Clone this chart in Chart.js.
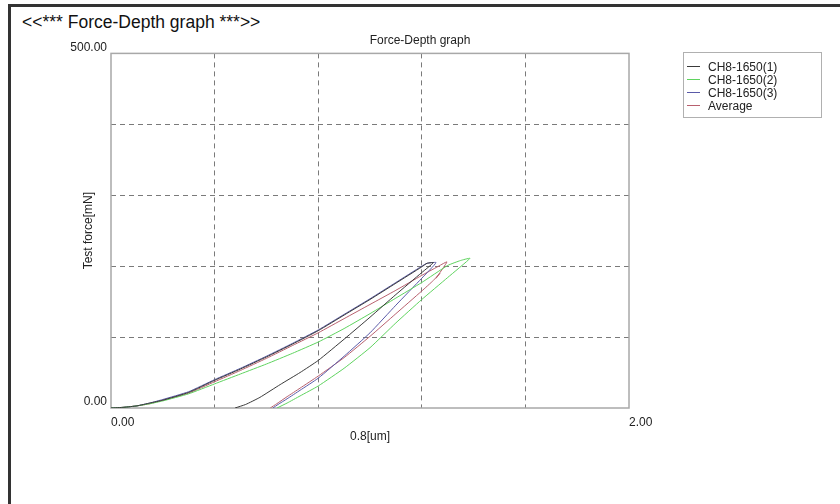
<!DOCTYPE html>
<html>
<head>
<meta charset="utf-8">
<script src="https://cdn.jsdelivr.net/npm/chart.js@4/dist/chart.umd.min.js"></script>
<style>
  html, body { margin: 0; padding: 0; background: #fff; }
  body { width: 840px; height: 504px; position: relative; overflow: hidden;
         font-family: "Liberation Sans", Arial, sans-serif; }
  #frame { position: absolute; left: 8px; top: 4px; width: 840px; height: 497px;
           border-top: 3px solid #333; border-left: 3px solid #333;
           border-bottom: 1px solid #ddd; }
  #heading { position: absolute; left: 22px; top: 12px; font-size: 17.5px; color: #111; white-space: pre; }
  #c { position: absolute; left: 0; top: 0; }
  #legend { position: absolute; left: 683px; top: 52px; width: 139px; height: 66px;
            border: 1px solid #b0b0b0; box-sizing: border-box; padding-top: 7px; }
  .row { height: 13px; display: flex; align-items: center; font-size: 12px; color: #222; }
  .row i { display: inline-block; width: 13px; height: 1px; margin: 0 8px 0 3px; }
</style>
</head>
<body>
<div id="frame"></div>
<div id="heading">&lt;&lt;*** Force-Depth graph ***&gt;&gt;</div>
<canvas id="c" width="840" height="504"></canvas>
<div id="legend"></div>
<script>
// --- data (depth in um, force in mN) ---
const seriesNames = ["CH8-1650(1)", "CH8-1650(2)", "CH8-1650(3)", "Average"];
const seriesColors = ["#3a3a3a", "#5fd35f", "#5a5aa8", "#b8606e"];

const ch1Depth = [0, 0.05, 0.1, 0.15, 0.2, 0.3, 0.4, 0.5, 0.6, 0.7, 0.8, 0.9, 1.0, 1.1, 1.2, 1.22, 1.245,
  1.2, 1.1, 1.0, 0.9, 0.8, 0.73, 0.653, 0.575, 0.52, 0.479];
const ch1Force = [0, 1, 3, 7, 11, 22, 39, 55, 72, 90, 109, 131, 153, 176, 199, 204, 205,
  191, 160, 128, 97, 67, 50, 33, 15, 5, 0];

const ch2Depth = [0, 0.05, 0.1, 0.15, 0.2, 0.3, 0.4, 0.5, 0.6, 0.7, 0.8, 0.9, 1.0, 1.1, 1.2, 1.3, 1.35, 1.386,
  1.3, 1.2, 1.1, 1.0, 0.9, 0.8, 0.73, 0.68, 0.641];
const ch2Force = [0, 1, 3, 6, 10, 20, 34, 48, 62, 77, 93, 112, 133, 155, 177, 201, 208, 211,
  184, 153, 120, 85, 56, 31, 17, 7, 0];

const ch3Depth = [0, 0.05, 0.1, 0.15, 0.2, 0.3, 0.4, 0.5, 0.6, 0.7, 0.8, 0.9, 1.0, 1.1, 1.2, 1.22, 1.255,
  1.2, 1.1, 1.0, 0.9, 0.8, 0.73, 0.68, 0.645, 0.625];
const ch3Force = [0, 1, 3, 7, 12, 23, 40, 56, 73, 91, 110, 132, 154, 177, 200, 204, 205,
  183, 145, 106, 73, 42, 25, 13, 5, 0];

const avgDepth = [0, 0.05, 0.1, 0.15, 0.2, 0.3, 0.4, 0.5, 0.6, 0.7, 0.8, 0.9, 1.0, 1.1, 1.2, 1.26, 1.297,
  1.255, 1.27, 1.245, 1.2, 1.1, 1.0, 0.9, 0.8, 0.73, 0.68, 0.64, 0.615];
const avgForce = [0, 1, 3, 6, 11, 21, 37, 53, 70, 88, 106, 126, 146, 166, 187, 199, 206,
  183, 190, 180, 165, 133, 101, 71, 45, 28, 16, 6, 0];

const xGrid = [0, 0.4, 0.8, 1.2, 1.6, 2.0];
const yGrid = [0, 100, 200, 300, 400, 500];
const xTickLabels = ["0.00", "", "", "", "", "2.00"];
const yTickLabels = ["0.00", "", "", "", "", "500.00"];

const depths = [ch1Depth, ch2Depth, ch3Depth, avgDepth];
const forces = [ch1Force, ch2Force, ch3Force, avgForce];

function toPoints(xs, ys) {
  return xs.map((x, i) => ({ x, y: ys[i] }));
}

const FONT = { family: '"Liberation Sans", Arial, sans-serif', size: 12, weight: "normal" };

// frame around the plot area
const plotBorder = {
  id: "plotBorder",
  beforeDatasetsDraw(chart) {
    const { ctx, chartArea: a } = chart;
    ctx.save();
    ctx.strokeStyle = "#a8a8a8";
    ctx.lineWidth = 1.5;
    ctx.strokeRect(a.left, a.top, a.right - a.left, a.bottom - a.top);
    ctx.restore();
  },
};

// no dashed line on the plot edges, the frame covers them
const edgeless = (ctx) =>
  ctx.index === 0 || ctx.index === 5 ? "rgba(0,0,0,0)" : "#7a7a7a";

new Chart(document.getElementById("c"), {
  type: "scatter",
  data: {
    datasets: seriesNames.map((name, i) => ({
      label: name,
      data: toPoints(depths[i], forces[i]),
      showLine: true,
      borderColor: seriesColors[i],
      borderWidth: 1,
      pointRadius: 0,
      tension: 0.15,
    })),
  },
  options: {
    responsive: false,
    animation: false,
    devicePixelRatio: 1,
    layout: { padding: { top: 33, right: 0, bottom: 0, left: 0 } },
    plugins: {
      legend: { display: false },
      tooltip: { enabled: false },
      title: {
        display: true,
        text: "Force-Depth graph",
        color: "#222",
        font: FONT,
        padding: { top: 0, bottom: 6 },
      },
    },
    scales: {
      x: {
        type: "linear",
        min: 0,
        max: 2,
        afterBuildTicks: (s) => { s.ticks = xGrid.map((v) => ({ value: v })); },
        afterFit: (s) => { s.height = 96; },
        ticks: {
          autoSkip: false,
          maxRotation: 0,
          align: "start",
          padding: 7,
          color: "#222",
          font: FONT,
          callback: (v, i) => xTickLabels[i],
        },
        grid: { color: edgeless, drawTicks: false, lineWidth: 1 },
        border: { display: false, dash: [5, 4] },
        title: { display: true, text: "0.8[um]", color: "#222", font: FONT, padding: { top: 3, bottom: 60 } },
      },
      y: {
        min: 0,
        max: 500,
        afterBuildTicks: (s) => { s.ticks = yGrid.map((v) => ({ value: v })); },
        afterFit: (s) => { s.width = 111; },
        ticks: {
          autoSkip: false,
          padding: 4,
          labelOffset: -6,
          color: "#222",
          font: FONT,
          callback: (v, i) => yTickLabels[i],
        },
        grid: { color: edgeless, drawTicks: false, lineWidth: 1 },
        border: { display: false, dash: [5, 4] },
        title: { display: true, text: "Test force[mN]", color: "#222", font: FONT, padding: { top: 81 } },
      },
      // empty right-hand band that holds the legend column
      side: {
        position: "right",
        afterFit: (s) => { s.width = 211; },
        ticks: { display: false },
        grid: { display: false },
        border: { display: false },
      },
    },
  },
  plugins: [plotBorder],
});

// legend box
const legend = document.getElementById("legend");
seriesNames.forEach((name, i) => {
  const row = document.createElement("div");
  row.className = "row";
  row.innerHTML = `<i style="background:${seriesColors[i]}"></i><span>${name}</span>`;
  legend.appendChild(row);
});
</script>
</body>
</html>
